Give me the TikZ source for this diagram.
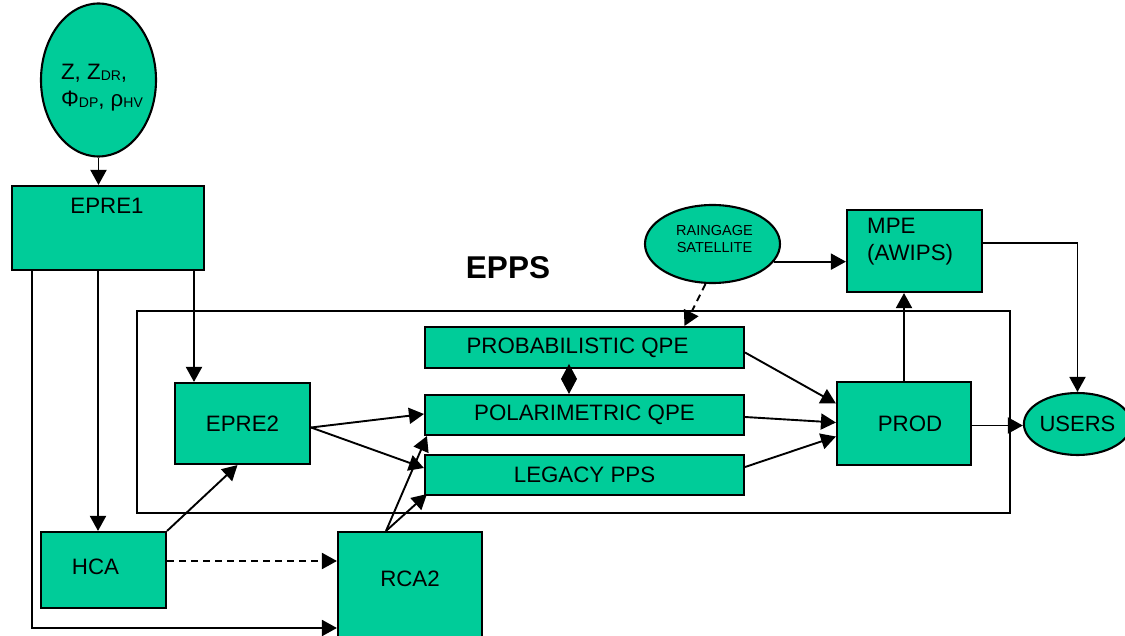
\documentclass[tikz,border=0pt]{standalone}
\usepackage{fontspec}
\setmainfont{Liberation Sans}
\usetikzlibrary{arrows.meta,shapes.geometric}
\definecolor{boxgreen}{HTML}{00CC99}
\newcommand{\sbx}[1]{\raisebox{-1pt}{\fontsize{14}{14}\selectfont #1}}
\begin{document}
\begin{tikzpicture}[x=1pt,y=-1pt,
 box/.style={draw,fill=boxgreen,line width=2.1pt,rectangle,inner sep=0pt,font=\fontsize{22.3}{26}\selectfont},
 oval/.style={draw,fill=boxgreen,line width=2.1pt,ellipse,inner sep=0pt},
 arr/.style={line width=1.9pt,-{Triangle[length=15pt,width=16pt]}},
 darr/.style={arr,dash pattern=on 7pt off 5pt},
 txt/.style={font=\fontsize{22.3}{27}\selectfont,inner sep=0pt}]
\useasboundingbox (0,0) rectangle (1125,636);

% EPPS frame and title
\node[draw,line width=1.8pt,rectangle,minimum width=873pt,minimum height=202pt,inner sep=0pt] (epps) at (573.5,412) {};
\node[txt,font=\fontsize{31.5}{36}\selectfont\bfseries] (eppslabel) at (508,268) {EPPS};

% nodes
\node[oval,minimum width=115pt,minimum height=153pt] (src) at (98.5,80) {};
\node[txt,align=left] (srctext) at (102,88) {Z, Z\sbx{DR},\\Φ\sbx{DP}, ρ\sbx{HV}};

\node[box,minimum width=192pt,minimum height=84pt,label={[txt,anchor=center,xshift=-1pt,yshift=-21pt]north:EPRE1}] (epre1) at (108,228) {};
\node[box,minimum width=135pt,minimum height=81pt] (epre2) at (242.5,423.5) {EPRE2};
\node[box,minimum width=319pt,minimum height=41pt,label={[txt,xshift=-7pt]center:PROBABILISTIC QPE}] (prob) at (584.5,347.5) {};
\node[box,minimum width=319pt,minimum height=40pt] (polar) at (584.5,415) {POLARIMETRIC QPE};
\node[box,minimum width=319pt,minimum height=40pt] (legacy) at (584.5,475) {LEGACY PPS};
\node[box,minimum width=134pt,minimum height=83pt,label={[txt,xshift=6pt]center:PROD}] (prod) at (904,423.5) {};
\node[oval,minimum width=96pt,minimum height=62pt,font=\fontsize{22}{26}\selectfont] (users) at (1077.5,424) {USERS};
\node[box,minimum width=135pt,minimum height=82pt] (mpe) at (914.5,251) {};
\node[txt,align=left,anchor=west] (mpetext) at (867,242) {MPE\\(AWIPS)};
\node[oval,minimum width=135pt,minimum height=78pt] (rain) at (712.5,244) {};
\node[txt,font=\fontsize{14.5}{17}\selectfont,align=center] (raintext) at (714.5,239) {RAINGAGE\\SATELLITE};
\node[box,minimum width=125pt,minimum height=76pt,label={[txt,xshift=-8pt,yshift=3pt]center:HCA}] (hca) at (103.5,570) {};
\node[box,minimum width=144pt,minimum height=128pt,label={[txt,yshift=17pt]center:RCA2}] (rca2) at (410,596) {};

% helper coordinates
\coordinate (l1) at (32,628);
\coordinate (l2) at (98,0);
\coordinate (l3) at (194,0);

% connectors
\draw[arr] (src.south) -- (src.south |- epre1.north);
\draw[arr] (epre1.south -| l1) -- (l1) -- (l1 -| rca2.west);
\draw[arr] (epre1.south -| l2) -- (hca.north -| l2);
\draw[arr] (epre1.south -| l3) -- (epre2.north -| l3);
\draw[arr] ([yshift=-4pt]epre2.east) -- ([yshift=1pt]polar.west);
\draw[arr] ([yshift=-4pt]epre2.east) -- ([yshift=7pt]legacy.west);
\draw[arr] (hca.north east) -- ([xshift=-5pt]epre2.south);
\draw[darr] ([yshift=9pt]hca.east) -- ([yshift=9pt]hca.east -| rca2.west);
\draw[arr] ([xshift=-24pt]rca2.north) -- ([xshift=3pt]polar.south west);
\draw[arr] ([xshift=-24pt]rca2.north) -- ([xshift=3pt,yshift=2pt]legacy.south west);
\draw[line width=1.9pt,-{Diamond[length=30pt,width=16pt]}] ([xshift=-15.5pt]prob.south) -- ([xshift=-15.5pt]polar.north);
\draw[darr] ([xshift=-7pt]rain.south) -- ([xshift=100pt]prob.north);
\draw[arr] ([yshift=-5pt]prob.east) -- ([yshift=20pt]prod.west);
\draw[arr] ([yshift=-2pt]polar.east) -- ([yshift=1pt]prod.west);
\draw[arr] ([yshift=8pt]legacy.east) -- ([yshift=-13pt]prod.west);
\draw[arr] (rain.-16) -- (rain.-16 -| mpe.west);
\draw[arr] (prod.north) -- (prod.north |- mpe.south);
\draw[arr] ([yshift=8pt]mpe.east) -| (users.north);
\draw[arr] ([yshift=-2pt]prod.east) -- ([yshift=-2pt]prod.east -| users.west);
\end{tikzpicture}
\end{document}
